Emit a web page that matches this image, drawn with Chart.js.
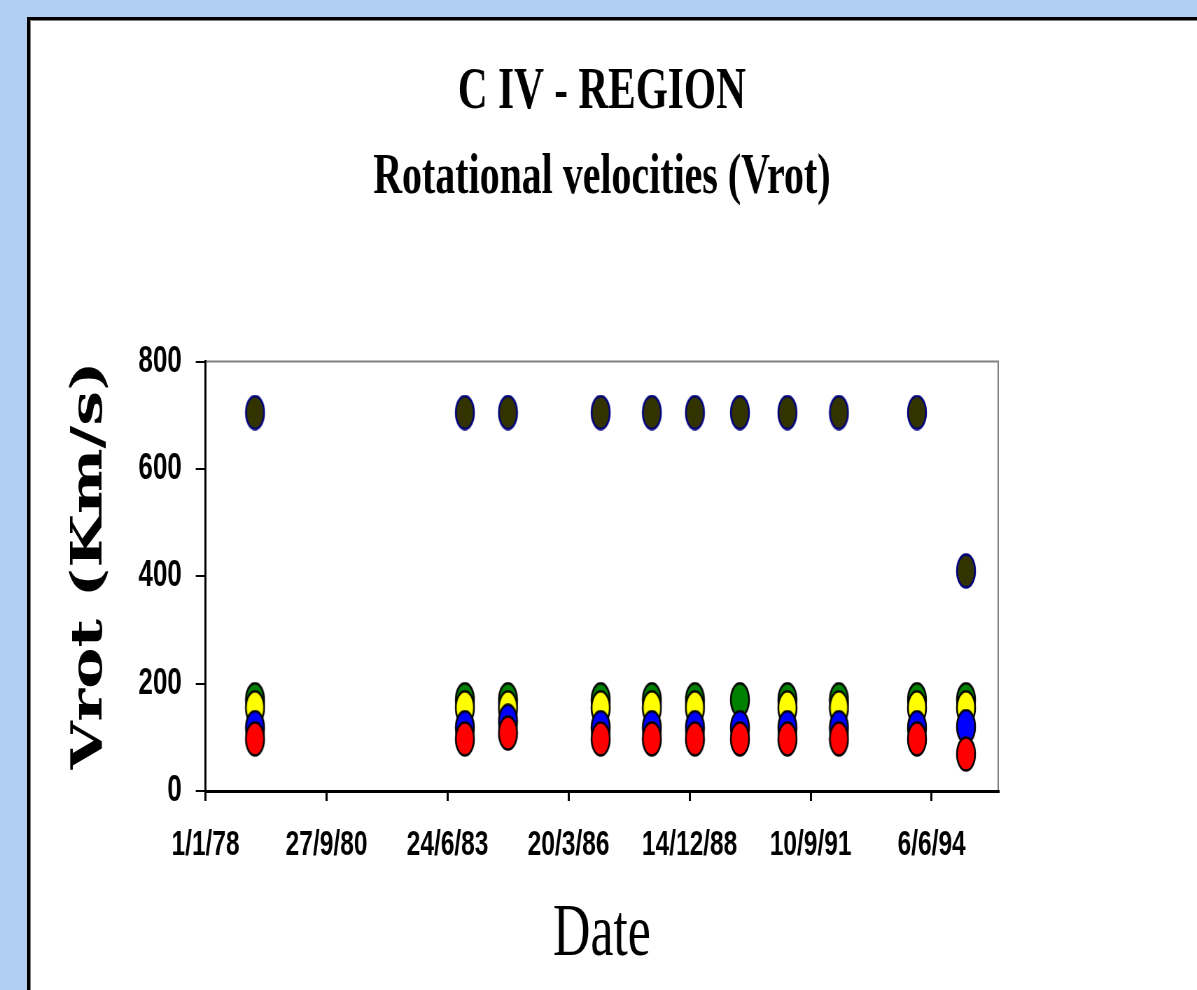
<!DOCTYPE html>
<html>
<head>
<meta charset="utf-8">
<title>C IV - REGION</title>
<script src="https://cdn.jsdelivr.net/npm/chart.js"></script>
<style>
  html, body { margin: 0; padding: 0; overflow: hidden; }
  body { width: 1197px; height: 990px; background: #b1cff1; position: relative; }
  #panel { position: absolute; left: 27px; top: 17px; right: -10px; bottom: -10px; background: #fff;
           border-left: 3px solid #000; border-top: 3px solid #000; box-shadow: inset 1px 1px 0 #808080; }
  /* the original slide is squeezed sideways, so the whole chart is drawn wide and scaled */
  #myChart { position: absolute; left: 0; top: 0; transform: scaleX(0.7); transform-origin: 0 0; }
</style>
</head>
<body>
<div id="panel"></div>
<canvas id="myChart" width="1710" height="990"></canvas>
<script>
const dates = ['1979-02-14', '1983-11-14', '1984-11-04', '1986-12-10', '1988-02-06', '1989-01-27',
               '1990-02-03', '1991-03-02', '1992-05-01', '1994-02-05', '1995-03-17'];
// one label every 1000 days from 1/1/78
const tickLabels = ['1/1/78', '27/9/80', '24/6/83', '20/3/86', '14/12/88', '10/9/91', '6/6/94'];

// Vrot (Km/s) per series
const darkVals   = [705, 705, 705, 705, 705, 705, 705, 705, 705, 705, 410];
const greenVals  = [170, 170, 170, 170, 170, 170, 170, 170, 170, 170, 170];
const yellowVals = [155, 155, 155, 155, 155, 155, null, 155, 155, 155, 155];
const blueVals   = [118, 118, 130, 118, 118, 118, 118, 118, 118, 118, 120];
const redVals    = [97, 97, 108, 97, 97, 97, 97, 97, 97, 97, 69];

const start = Date.UTC(1978, 0, 1);
function dayNum(s) {
  const p = s.split('-');
  return (Date.UTC(+p[0], p[1] - 1, +p[2]) - start) / 86400000;
}
function pts(vals) {
  return vals.map((v, i) => ({x: dayNum(dates[i]), y: v})).filter(p => p.y !== null);
}

// oval markers like the excel ones
function marker(fill, stroke) {
  const c = document.createElement('canvas');
  c.width = 30; c.height = 36;
  const g = c.getContext('2d');
  g.beginPath();
  g.ellipse(15, 18, 13, 16.5, 0, 0, Math.PI * 2);
  g.fillStyle = fill;
  g.fill();
  g.lineWidth = 2.5;
  g.strokeStyle = stroke;
  g.stroke();
  return c;
}

const plotFrame = {
  id: 'plotFrame',
  beforeDraw(chart) {
    const {ctx, chartArea: a} = chart;
    ctx.save();
    ctx.strokeStyle = '#808080';
    ctx.lineWidth = 2;
    ctx.strokeRect(a.left, a.top, a.right - a.left, a.bottom - a.top);
    ctx.restore();
  }
};

const ctx = document.getElementById('myChart');
new Chart(ctx, {
  type: 'scatter',
  data: {
    datasets: [
      {label: 'red', data: pts(redVals), pointStyle: marker('#ff0000', '#000')},
      {label: 'blue', data: pts(blueVals), pointStyle: marker('#0000ff', '#000')},
      {label: 'yellow', data: pts(yellowVals), pointStyle: marker('#ffff00', '#000')},
      {label: 'green', data: pts(greenVals), pointStyle: marker('#008000', '#000')},
      {label: 'dark', data: pts(darkVals), pointStyle: marker('#333300', '#000080')}
    ]
  },
  options: {
    responsive: false,
    animation: false,
    devicePixelRatio: 1,
    layout: {padding: {top: 0, left: 0, right: 284, bottom: 0}},
    plugins: {
      legend: {display: false},
      tooltip: {enabled: false},
      title: {
        display: true, fullSize: false, text: 'C IV - REGION', color: '#000',
        font: {family: 'Liberation Serif', size: 59, weight: 'bold'},
        padding: {top: 57, bottom: 0}
      },
      subtitle: {
        display: true, fullSize: false, text: 'Rotational velocities (Vrot)', color: '#000',
        font: {family: 'Liberation Serif', size: 57, weight: 'bold'},
        padding: {top: 16, bottom: 149.3}
      }
    },
    scales: {
      x: {
        type: 'linear', min: 0, max: 6550,
        afterFit: s => { s.height = 199; },
        afterBuildTicks: s => { s.ticks = tickLabels.map((t, i) => ({value: i * 1000})); },
        ticks: {
          autoSkip: false, maxRotation: 0,
          padding: 23, color: '#000', font: {family: 'Liberation Sans', size: 35, weight: 'bold'},
          callback: (v, i) => tickLabels[i]
        },
        grid: {drawOnChartArea: false, tickLength: 10, color: '#000', lineWidth: 3},
        border: {color: '#000', width: 3},
        title: {
          display: true, text: 'Date', color: '#000',
          font: {family: 'Liberation Serif', size: 74, weight: 'normal'},
          padding: {top: 0, bottom: 10.3}
        }
      },
      y: {
        min: 0, max: 800,
        afterFit: s => { s.width = 293.6; },
        ticks: {stepSize: 200, padding: 20, color: '#000', font: {family: 'Liberation Sans', size: 37, weight: 'bold'}},
        grid: {drawOnChartArea: false, tickLength: 14, color: '#000', lineWidth: 2},
        border: {color: '#000', width: 3},
        title: {
          display: true, text: 'Vrot (Km/s)', color: '#000', align: 'end',
          font: {family: 'DejaVu Serif', size: 62, weight: 'bold'},
          padding: {top: 92, bottom: 0}
        }
      }
    }
  },
  plugins: [plotFrame]
});
</script>
</body>
</html>
